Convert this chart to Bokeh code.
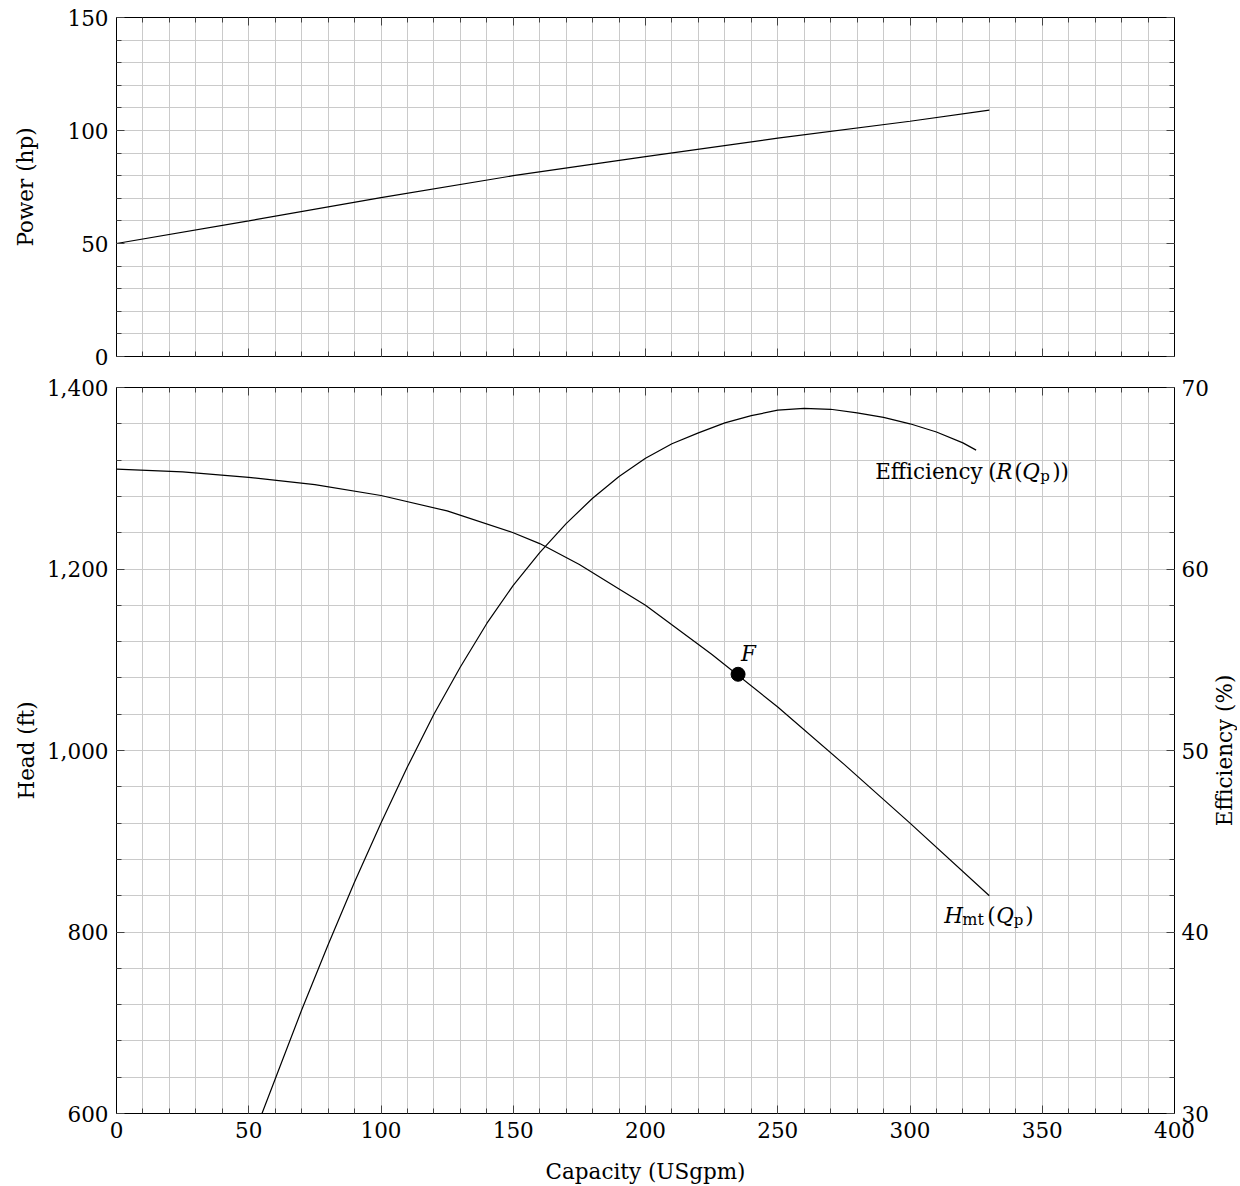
import math
from bokeh.plotting import figure
from bokeh.layouts import column, row
from bokeh.models import (Range1d, LinearAxis, SingleIntervalTicker,
                          NumeralTickFormatter, Label, Grid, CustomLabelingPolicy)
from bokeh.embed import file_html
from bokeh.resources import INLINE

# ---------------- data ----------------
capacity_power = [0, 50, 100, 150, 200, 250, 300, 330]
power_hp = [50, 60, 70.3, 80, 88.4, 96.6, 104.1, 109]

capacity_head = [0, 25, 50, 75, 100, 125, 150, 160, 175, 190, 200, 225, 250, 275, 300, 330]
head_ft = [1310, 1307, 1301, 1293, 1281, 1264, 1240, 1228, 1205, 1178, 1160, 1106, 1048, 985, 920, 840]

capacity_eff = [55, 60, 70, 80, 90, 100, 110, 120, 130, 140, 150, 160, 170, 180,
                190, 200, 210, 220, 230, 240, 250, 260, 270, 280, 290, 300, 310, 320, 325]
efficiency_pct = [30, 31.9, 35.7, 39.3, 42.75, 46.0, 49.1, 52.0, 54.6, 57.0, 59.1, 60.9,
                  62.5, 63.9, 65.1, 66.1, 66.9, 67.5, 68.05, 68.45, 68.75, 68.85, 68.8,
                  68.6, 68.35, 68.0, 67.55, 66.95, 66.55]

duty_capacity = [235]
duty_head = [1084]

# ---------------- style ----------------
FONT = "DejaVu Serif"
FS = "21.5px"
GRID = "#cacaca"
TICK = "#444444"

NO_LABELS = CustomLabelingPolicy(code="""
const all = [...indices]
for (const i of all) { indices.set(i, false) }
return indices
""")


def style_axis(ax, show_labels=True, label=None, label_standoff=10):
    ax.axis_line_color = "black"
    ax.major_tick_in = 8
    ax.major_tick_out = 0
    ax.minor_tick_in = 5
    ax.minor_tick_out = 0
    ax.major_tick_line_color = TICK
    ax.minor_tick_line_color = TICK
    ax.major_label_text_font = FONT
    ax.major_label_text_color = "black"
    ax.major_label_standoff = 8
    if show_labels:
        ax.major_label_text_font_size = FS
    else:
        ax.major_label_text_font_size = "0px"
        ax.major_label_standoff = 0
        ax.major_label_policy = NO_LABELS
    if label is not None:
        ax.axis_label = label
        ax.axis_label_text_font = FONT
        ax.axis_label_text_font_size = FS
        ax.axis_label_text_font_style = "normal"
        ax.axis_label_text_color = "black"
        ax.axis_label_standoff = label_standoff


def base_fig(height, y_range, top, bottom, right):
    p = figure(frame_width=1058, frame_height=height,
               x_range=Range1d(0, 400), y_range=y_range,
               x_axis_type=None, y_axis_type=None,
               output_backend="svg", toolbar_location=None,
               min_border_left=116, min_border_right=right,
               min_border_top=top, min_border_bottom=bottom)
    p.outline_line_color = "black"
    p.outline_line_width = 1
    p.background_fill_color = "white"
    p.border_fill_color = "white"
    return p


def add_grid(p, dim, ticker):
    g = Grid(dimension=dim, ticker=ticker)
    g.grid_line_color = GRID
    g.minor_grid_line_color = GRID
    g.grid_line_width = 1
    g.minor_grid_line_width = 1
    p.add_layout(g, "center")


# ---------------- top: power ----------------
p1 = base_fig(339, Range1d(0, 150), 17, 16, 57)
xt1 = SingleIntervalTicker(interval=50, num_minor_ticks=5)
yt1 = SingleIntervalTicker(interval=50, num_minor_ticks=5)
add_grid(p1, 0, xt1)
add_grid(p1, 1, yt1)

ax = LinearAxis(ticker=xt1); style_axis(ax, show_labels=False); p1.add_layout(ax, "below")
ax = LinearAxis(ticker=xt1); style_axis(ax, show_labels=False); p1.add_layout(ax, "above")
ax = LinearAxis(ticker=yt1); style_axis(ax, True, "Power (hp)", 26); p1.add_layout(ax, "left")
ax = LinearAxis(ticker=yt1); style_axis(ax, show_labels=False); p1.add_layout(ax, "right")

p1.line(capacity_power, power_hp, line_color="black", line_width=1.2)

# ---------------- bottom: head & efficiency ----------------
p2 = base_fig(726, Range1d(600, 1400), 15, 0, 33)
p2.extra_y_ranges = {"eff": Range1d(30, 70)}
xt2 = SingleIntervalTicker(interval=50, num_minor_ticks=5)
yt2 = SingleIntervalTicker(interval=200, num_minor_ticks=5)
et2 = SingleIntervalTicker(interval=10, num_minor_ticks=5)
add_grid(p2, 0, xt2)
add_grid(p2, 1, yt2)

ax = LinearAxis(ticker=xt2); style_axis(ax, True, "Capacity (USgpm)", 18); p2.add_layout(ax, "below")
ax = LinearAxis(ticker=xt2); style_axis(ax, show_labels=False); p2.add_layout(ax, "above")
ax = LinearAxis(ticker=yt2, formatter=NumeralTickFormatter(format="0,0"))
style_axis(ax, True, "Head (ft)", 5); p2.add_layout(ax, "left")
ax = LinearAxis(ticker=et2, y_range_name="eff")
style_axis(ax, True)
ax.major_label_standoff = 7
p2.add_layout(ax, "right")

p2.line(capacity_head, head_ft, line_color="black", line_width=1.2)
p2.line(capacity_eff, efficiency_pct, line_color="black", line_width=1.2, y_range_name="eff")
p2.scatter(duty_capacity, duty_head, size=14, color="black")

# right-axis title (reads bottom to top) in a narrow strip beside the plot
strip = figure(frame_width=26, frame_height=726, x_range=Range1d(0, 1), y_range=Range1d(0, 1),
               x_axis_type=None, y_axis_type=None, output_backend="svg",
               toolbar_location=None, min_border_left=0, min_border_right=0,
               min_border_top=15, min_border_bottom=0)
strip.outline_line_color = None
strip.grid.visible = False
strip.add_layout(Label(x=0.5, y=0.5, angle=math.pi / 2, text="Efficiency (%)",
                       text_font=FONT, text_font_size=FS, text_align="center",
                       text_baseline="middle", text_color="black"))


def add_pieces(p, x, y, pieces, y_range_name="default"):
    for text, dx, dy, size, style in pieces:
        p.add_layout(Label(x=x, y=y, x_offset=dx, y_offset=dy, text=text,
                           text_font=FONT, text_font_size=size, text_font_style=style,
                           text_color="black", text_baseline="alphabetic",
                           text_align="left", y_range_name=y_range_name))


# Efficiency (R(Q_p)) label near the end of the efficiency curve
add_pieces(p2, capacity_eff[-1], efficiency_pct[-1], [
    ("Efficiency", -101, -21, FS, "normal"),
    ("(", 12, -21, FS, "normal"),
    ("R", 20, -21, FS, "italic"),
    ("(", 38, -21, FS, "normal"),
    ("Q", 46, -21, FS, "italic"),
    ("p", 64, -25.5, "15px", "normal"),
    ("))", 76, -21, FS, "normal"),
], y_range_name="eff")

# H_mt(Q_p) label near the end of the head curve
add_pieces(p2, capacity_head[-1], head_ft[-1], [
    ("H", -45, -20, FS, "italic"),
    ("mt", -27, -24, "16px", "normal"),
    ("(", -2, -20, FS, "normal"),
    ("Q", 7, -20, FS, "italic"),
    ("p", 24.5, -24, "15px", "normal"),
    (")", 36, -20, FS, "normal"),
])

# F duty point label
add_pieces(p2, duty_capacity[0], duty_head[0], [
    ("F", 3, 21, FS, "italic"),
])

layout = column(p1, row(p2, strip, spacing=0), spacing=0)
open("out.html", "w").write(file_html(layout, INLINE))
